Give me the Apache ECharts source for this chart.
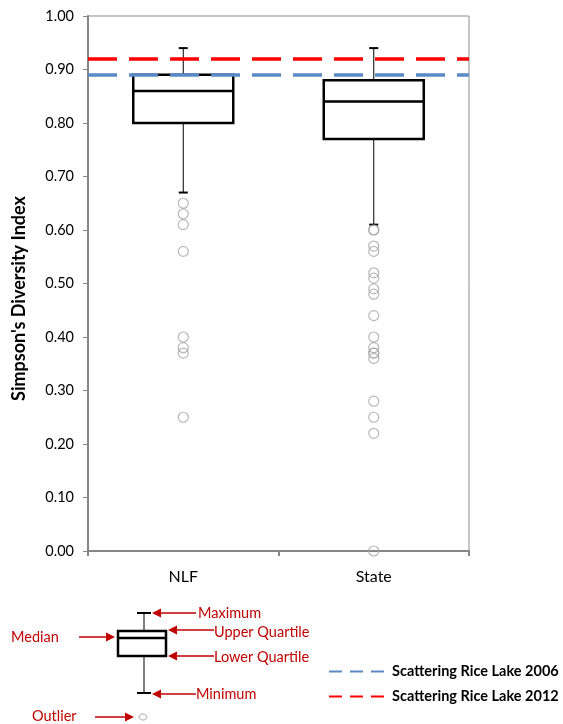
<!DOCTYPE html>
<html lang="en">
  <head>
    <meta charset="UTF-8" />
    <title>Simpson's Diversity Index</title>
    <style>
      html, body { margin: 0; padding: 0; background: #fff; }
      #main { width: 563px; height: 724px; }
    </style>
  </head>
  <body>
    <div id="main"></div>

    <script src="https://cdn.jsdelivr.net/npm/echarts@6/dist/echarts.min.js"></script>
    <script>
      // data
      const categories = ['NLF', 'State']
      // [min, lower quartile, median, upper quartile, max]
      const nlfStats = [0.67, 0.80, 0.86, 0.89, 0.94]
      const stateStats = [0.61, 0.77, 0.84, 0.88, 0.94]
      const nlfOutliers = [0.65, 0.63, 0.61, 0.56, 0.40, 0.38, 0.37, 0.25]
      const stateOutliers = [0.60, 0.60, 0.57, 0.56, 0.52, 0.51, 0.49, 0.48, 0.44,
        0.40, 0.38, 0.37, 0.37, 0.36, 0.28, 0.25, 0.22, 0.00]
      const refNames = ['Scattering Rice Lake 2006', 'Scattering Rice Lake 2012']
      const refValues = [0.888, 0.915]
      const refColors = ['#5a8ac6', '#ff0000']
      const yMin = 0, yMax = 1, yStep = 0.1

      const font = 'Lato, "Open Sans", sans-serif'
      const keyRed = '#c00000'

      const stats = [nlfStats, stateStats]
      const outliers = []
      nlfOutliers.forEach(v => outliers.push([0, v]))
      stateOutliers.forEach(v => outliers.push([1, v]))

      // little legend drawing explaining the box
      function arrow(x1, y, x2) {
        const dir = x2 > x1 ? 1 : -1
        return [
          { type: 'line', shape: { x1: x1, y1: y, x2: x2 - dir * 7, y2: y },
            style: { stroke: keyRed, lineWidth: 1.5 } },
          { type: 'polygon', shape: { points: [[x2, y], [x2 - dir * 9, y - 4.5], [x2 - dir * 9, y + 4.5]] },
            style: { fill: keyRed } }
        ]
      }
      function label(text, x, y) {
        return { type: 'text', x: x, y: y,
          style: { text: text, fill: keyRed, font: '14.5px ' + font, verticalAlign: 'middle' } }
      }
      const key = [
        // whiskers
        { type: 'line', shape: { x1: 144, y1: 613, x2: 144, y2: 693 }, style: { stroke: '#000', lineWidth: 1 } },
        { type: 'line', shape: { x1: 137, y1: 613, x2: 151, y2: 613 }, style: { stroke: '#000', lineWidth: 2 } },
        { type: 'line', shape: { x1: 137, y1: 693, x2: 151, y2: 693 }, style: { stroke: '#000', lineWidth: 2 } },
        // box
        { type: 'rect', shape: { x: 118, y: 631, width: 48, height: 25 },
          style: { fill: '#fff', stroke: '#000', lineWidth: 2.5 } },
        { type: 'line', shape: { x1: 118, y1: 638, x2: 166, y2: 638 }, style: { stroke: '#000', lineWidth: 2.5 } },
        // outlier
        { type: 'ellipse', shape: { cx: 143, cy: 717, rx: 4, ry: 3 },
          style: { fill: 'none', stroke: '#a6a6a6', lineWidth: 1 } }
      ].concat(
        arrow(196, 613, 152), label('Maximum', 198, 613),
        arrow(214, 630, 168), label('Upper Quartile', 214, 632),
        arrow(214, 656, 168), label('Lower Quartile', 214, 657),
        arrow(196, 694, 152), label('Minimum', 196, 694),
        arrow(79, 637, 115), label('Median', 11, 637),
        arrow(95, 717, 134), label('Outlier', 32, 716)
      )

      let myChart = echarts.init(document.getElementById('main'))
      let option = {
        animation: false,
        grid: {
          left: 88, right: 94, top: 16, bottom: 173,
          show: true, borderColor: '#8c8c8c', borderWidth: 1
        },
        legend: {
          orient: 'vertical',
          left: 323, top: 659,
          itemWidth: 58, itemHeight: 6, itemGap: 10,
          data: refNames,
          itemStyle: { opacity: 0 },
          textStyle: { fontFamily: font, fontSize: 14.5, fontWeight: 'bold', color: '#000' }
        },
        xAxis: {
          type: 'category',
          data: categories,
          axisLine: { lineStyle: { color: '#868686', width: 2 } },
          axisTick: { show: true, length: 5, lineStyle: { color: '#868686', width: 2 } },
          axisLabel: { fontFamily: font, fontSize: 16, color: '#000', margin: 18 }
        },
        yAxis: {
          type: 'value',
          min: yMin, max: yMax, interval: yStep,
          name: "Simpson's Diversity Index",
          nameLocation: 'middle',
          nameGap: 60,
          nameTextStyle: {
            fontFamily: font, fontSize: 18, fontWeight: 'bold', color: '#000',
            padding: [0, 30, 0, 0]
          },
          axisLine: { show: true, lineStyle: { color: '#868686', width: 2 } },
          axisTick: { show: true, length: 5, lineStyle: { color: '#868686', width: 1 } },
          splitLine: { show: false },
          axisLabel: {
            fontFamily: font, fontSize: 14.5, color: '#000', margin: 14,
            formatter: v => v.toFixed(2)
          }
        },
        graphic: key,
        series: [
          {
            // box only; whiskers come from the custom series
            type: 'boxplot',
            boxWidth: [100, 100],
            data: stats.map(s => [s[1], s[1], s[2], s[3], s[3]]),
            itemStyle: { color: '#fff', borderColor: '#000', borderWidth: 2.5 },
            z: 3
          },
          {
            type: 'custom',
            data: stats.map((s, i) => [i, s[0], s[1], s[3], s[4]]),
            renderItem: function(params, api) {
              const i = api.value(0)
              const lo = api.coord([i, api.value(1)])
              const q1 = api.coord([i, api.value(2)])
              const q3 = api.coord([i, api.value(3)])
              const hi = api.coord([i, api.value(4)])
              const s = { stroke: '#000', lineWidth: 1 }
              const c = { stroke: '#000', lineWidth: 2 }
              return {
                type: 'group',
                children: [
                  { type: 'line', shape: { x1: hi[0], y1: hi[1], x2: q3[0], y2: q3[1] }, style: s },
                  { type: 'line', shape: { x1: lo[0], y1: lo[1], x2: q1[0], y2: q1[1] }, style: s },
                  { type: 'line', shape: { x1: hi[0] - 4.5, y1: hi[1], x2: hi[0] + 4.5, y2: hi[1] }, style: c },
                  { type: 'line', shape: { x1: lo[0] - 4.5, y1: lo[1], x2: lo[0] + 4.5, y2: lo[1] }, style: c }
                ]
              }
            },
            z: 2
          },
          {
            type: 'scatter',
            data: outliers,
            symbol: 'circle',
            symbolSize: 10,
            itemStyle: { color: 'rgba(0,0,0,0)', borderColor: '#a6a6a6', borderWidth: 1.2 },
            z: 4
          }
        ].concat(refNames.map((name, k) => ({
          name: name,
          type: 'line',
          data: [],
          symbol: 'none',
          lineStyle: { color: refColors[k], width: 3, type: [13, 8] },
          itemStyle: { color: refColors[k] },
          markLine: {
            silent: true,
            symbol: 'none',
            label: { show: false },
            lineStyle: { color: refColors[k], width: 3.5, type: [29, 12] },
            data: [{ yAxis: refValues[k] }]
          },
          z: 6
        })))
      }
      myChart.setOption(option)
    </script>
  </body>
</html>
